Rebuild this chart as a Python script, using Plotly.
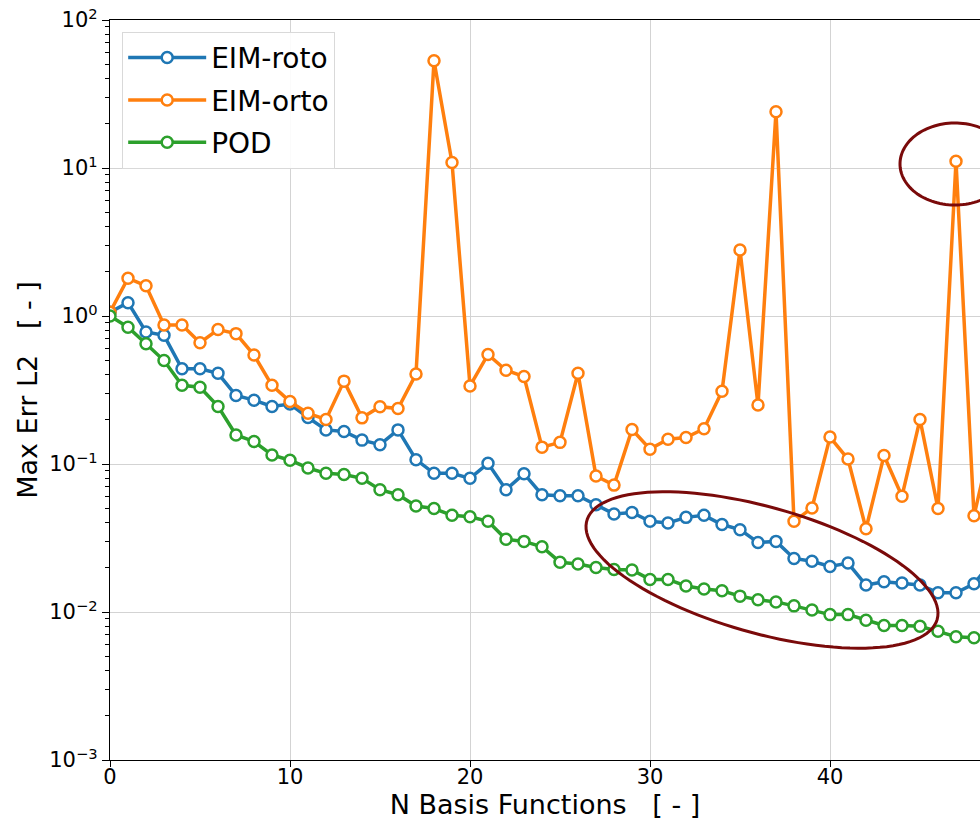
import numpy as np
import plotly.graph_objects as go

n_basis = list(range(50))

eim_roto = [1.06, 1.23, 0.78, 0.74, 0.44, 0.44, 0.41, 0.29, 0.27, 0.245,
            0.254, 0.206, 0.17, 0.166, 0.145, 0.135, 0.17, 0.107, 0.0865, 0.0865,
            0.080, 0.101, 0.067, 0.086, 0.062, 0.061, 0.061, 0.053, 0.046, 0.047,
            0.041, 0.040, 0.0436, 0.045, 0.039, 0.036, 0.0295, 0.030, 0.023, 0.022,
            0.0203, 0.0214, 0.0152, 0.016, 0.0157, 0.0152, 0.0135, 0.0135, 0.0155, 0.022]

eim_orto = [1.06, 1.8, 1.6, 0.87, 0.87, 0.66, 0.81, 0.76, 0.545, 0.34,
            0.264, 0.22, 0.20, 0.363, 0.205, 0.244, 0.237, 0.405, 53.0, 10.9,
            0.337, 0.55, 0.43, 0.39, 0.13, 0.14, 0.41, 0.083, 0.072, 0.171,
            0.126, 0.147, 0.151, 0.173, 0.31, 2.79, 0.25, 24.0, 0.041, 0.0504,
            0.152, 0.108, 0.0365, 0.114, 0.0606, 0.2, 0.05, 11.1, 0.0447, 0.15]

pod = [1.0, 0.84, 0.65, 0.50, 0.34, 0.33, 0.245, 0.157, 0.142, 0.115,
       0.106, 0.094, 0.0865, 0.085, 0.08, 0.067, 0.062, 0.052, 0.05, 0.045,
       0.044, 0.041, 0.031, 0.030, 0.0276, 0.0217, 0.0211, 0.020, 0.0194, 0.0192,
       0.0166, 0.0166, 0.015, 0.0143, 0.0139, 0.0128, 0.0121, 0.0117, 0.011, 0.0103,
       0.0096, 0.0096, 0.0088, 0.0081, 0.0081, 0.0080, 0.0074, 0.0068, 0.0067, 0.0066]

series_names = ["EIM-roto", "EIM-orto", "POD"]
series_colors = ["#1f77b4", "#ff7f0e", "#2ca02c"]

y_tickvals = [1e-3, 1e-2, 1e-1, 1e0, 1e1, 1e2]
y_ticktext = ["10<sup>\u22123</sup>", "10<sup>\u22122</sup>", "10<sup>\u22121</sup>",
              "10<sup>0</sup>", "10<sup>1</sup>", "10<sup>2</sup>"]
y_minor = [k * 10.0 ** e for e in range(-3, 2) for k in range(2, 10)]
x_tickvals = [0, 10, 20, 30, 40]

FONT = "DejaVu Sans"
W, H = 980, 823
L, R, T, B = 110, 0, 20, 63
PW, PH = W - L - R, H - T - B

fig = go.Figure()
for name, vals, col in zip(series_names, [eim_roto, eim_orto, pod], series_colors):
    fig.add_trace(go.Scatter(
        x=n_basis, y=vals, name=name, legendgroup=name, mode="lines+markers",
        line=dict(color=col, width=3.5),
        marker=dict(symbol="circle", size=11, color="white",
                    line=dict(color=col, width=2.5)),
    ))


def px_to_paper(px, py):
    return (np.asarray(px) - L) / PW, (H - B - np.asarray(py)) / PH


def ellipse_path(cx, cy, a, b, theta_deg, n=120):
    t = np.linspace(0, 2 * np.pi, n)
    th = np.deg2rad(theta_deg)
    xs = cx + a * np.cos(t) * np.cos(th) - b * np.sin(t) * np.sin(th)
    ys = cy + a * np.cos(t) * np.sin(th) + b * np.sin(t) * np.cos(th)
    xp, yp = px_to_paper(xs, ys)
    pts = ["%s%.5f,%.5f" % ("M" if i == 0 else "L", x, y) for i, (x, y) in enumerate(zip(xp, yp))]
    return " ".join(pts) + " Z"


ellipse_color = "#7a0a0a"
fig.add_shape(type="path", xref="paper", yref="paper",
              path=ellipse_path(762, 570, 182, 63, 15.75),
              line=dict(color=ellipse_color, width=3))
fig.add_shape(type="path", xref="paper", yref="paper",
              path=ellipse_path(955, 164, 55, 41, 0),
              line=dict(color=ellipse_color, width=3))

fig.update_layout(
    width=W, height=H,
    margin=dict(l=L, r=R, t=T, b=B),
    paper_bgcolor="white", plot_bgcolor="white",
    font=dict(family=FONT, color="black", size=21),
    showlegend=True,
    legend=dict(x=0.014, y=0.984, xanchor="left", yanchor="top",
                bgcolor="rgba(255,255,255,0.9)", bordercolor="#d9d9d9", borderwidth=1,
                font=dict(family=FONT, size=28, color="black"),
                traceorder="grouped", tracegroupgap=3, itemwidth=78,
                entrywidth=138),
    xaxis=dict(range=[0, PW / 18.0], tickvals=x_tickvals,
               showgrid=True, gridcolor="#d3d3d3", gridwidth=1,
               showline=True, linecolor="black", linewidth=1.3, mirror=True,
               ticks="outside", ticklen=6, tickcolor="black",
               tickfont=dict(size=21), zeroline=False, ticklabelstandoff=-8,
               title=dict(text="N Basis Functions   [ - ]", font=dict(size=27), standoff=3)),
    yaxis=dict(type="log", range=[-3, 2], tickvals=y_tickvals, ticktext=y_ticktext,
               showgrid=True, gridcolor="#d3d3d3", gridwidth=1,
               showline=True, linecolor="black", linewidth=1.3, mirror=False,
               ticks="outside", ticklen=7, tickcolor="black",
               minor=dict(tickvals=y_minor, ticks="outside", ticklen=4,
                          tickcolor="black", showgrid=False),
               tickfont=dict(size=21), zeroline=False,
               title=dict(text="Max Err L2   [ - ]", font=dict(size=27), standoff=3)),
)

fig.write_html("out.html", config={"displayModeBar": False},
               post_script="document.body.style.margin='0';")
